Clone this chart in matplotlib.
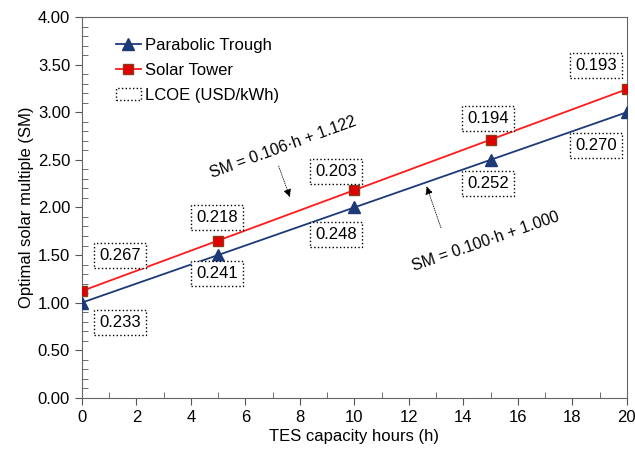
import matplotlib.pyplot as plt
from matplotlib.lines import Line2D
from matplotlib.patches import Patch
from matplotlib.ticker import MultipleLocator

plt.rcParams['font.family'] = ['Liberation Sans', 'DejaVu Sans']

# data
hours = [0, 5, 10, 15, 20]
sm_trough = [1.000, 1.500, 2.000, 2.500, 3.000]
sm_tower = [1.122, 1.652, 2.182, 2.712, 3.242]

# LCOE labels (USD/kWh) and where their boxes sit
lcoe_trough = ['0.233', '0.241', '0.248', '0.252', '0.270']
lcoe_tower = ['0.267', '0.218', '0.203', '0.194', '0.193']
trough_lbl_x = [1.39, 4.95, 9.32, 14.9, 18.86]
trough_lbl_y = [0.79, 1.31, 1.72, 2.25, 2.65]
tower_lbl_x = [1.39, 4.95, 9.32, 14.9, 18.86]
tower_lbl_y = [1.49, 1.89, 2.38, 2.93, 3.49]

navy = '#1c3a78'
red = '#ff1a1a'

fig = plt.figure(figsize=(6.35, 4.5), dpi=100)
ax = fig.add_axes([0.129, 0.116, 0.858, 0.846])

ax.plot(hours, sm_trough, color=navy, lw=1.3, marker='^', ms=8,
        mfc=navy, mec=navy, zorder=3)
ax.plot(hours, sm_tower, color=red, lw=1.3, marker='s', ms=7.5,
        mfc='#e00000', mec='#8b3a1a', zorder=3)

box = dict(boxstyle='square,pad=0.3', fc='white', ec='black', ls=':', lw=1)
for x, y, t in zip(trough_lbl_x, trough_lbl_y, lcoe_trough):
    ax.text(x, y, t, ha='center', va='center', fontsize=12, bbox=box, zorder=4)
for x, y, t in zip(tower_lbl_x, tower_lbl_y, lcoe_tower):
    ax.text(x, y, t, ha='center', va='center', fontsize=12, bbox=box, zorder=4)

# fitted equations with arrows
ax.text(7.38, 2.63, 'SM = 0.106·h + 1.122', rotation=20, fontsize=11.5,
        ha='center', va='center', rotation_mode='anchor')
ax.annotate('', xy=(7.67, 2.08), xytext=(7.19, 2.46),
            arrowprops=dict(arrowstyle='-|>', color='black', lw=0.6, ls=':',
                            mutation_scale=12))
ax.text(14.83, 1.64, 'SM = 0.100·h + 1.000', rotation=19, fontsize=11.5,
        ha='center', va='center', rotation_mode='anchor')
ax.annotate('', xy=(12.62, 2.25), xytext=(13.21, 1.76),
            arrowprops=dict(arrowstyle='-|>', color='black', lw=0.6, ls=':',
                            mutation_scale=12))

ax.set_xlim(0, 20)
ax.set_ylim(0, 4)
ax.xaxis.set_major_locator(MultipleLocator(2))
ax.xaxis.set_minor_locator(MultipleLocator(1))
ax.yaxis.set_major_locator(MultipleLocator(0.5))
ax.yaxis.set_minor_locator(MultipleLocator(0.1))
ax.yaxis.set_major_formatter(lambda v, p: f'{v:.2f}')
ax.tick_params(which='major', direction='out', length=5, labelsize=12,
               color='#555555')
ax.tick_params(which='minor', direction='in', length=4, color='#555555')
for s in ax.spines.values():
    s.set_color('#666666')

ax.set_xlabel('TES capacity hours (h)', fontsize=12, labelpad=3)
ax.set_ylabel('Optimal solar multiple (SM)', fontsize=12, labelpad=3)

handles = [
    Line2D([], [], color=navy, marker='^', ms=8, mfc=navy, mec=navy, lw=1.3),
    Line2D([], [], color=red, marker='s', ms=7.5, mfc='#e00000', mec='#8b3a1a', lw=1.3),
    Patch(fc='white', ec='black', ls=':', lw=1),
]
ax.legend(handles, ['Parabolic Trough', 'Solar Tower', 'LCOE (USD/kWh)'],
          loc='upper left', bbox_to_anchor=(0.035, 0.985), frameon=False,
          fontsize=12, handlelength=1.5, handletextpad=0.25, labelspacing=0.6)

fig.savefig('out.png', dpi=100)
